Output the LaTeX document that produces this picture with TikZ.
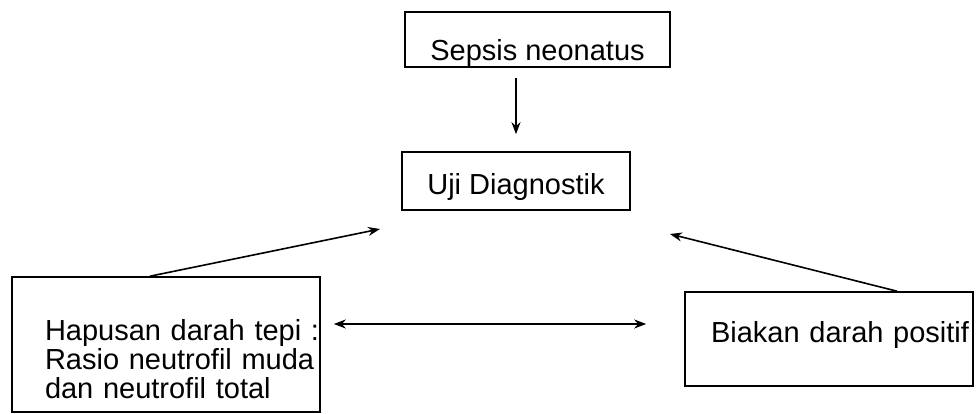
\documentclass[tikz,border=0pt]{standalone}
\usepackage{fontspec}
\setmainfont{Liberation Sans}
\usetikzlibrary{arrows.meta}

\tikzset{
  kotak/.style={draw, inner sep=0pt},
}

\begin{document}
\begin{tikzpicture}[x=1pt,y=-1pt,>={Stealth[length=12pt,width=9pt]},line width=1.6pt,font=\fontsize{29}{33}\selectfont]
            \useasboundingbox (0,0) rectangle (979,414);
            \node[kotak,anchor=base,minimum width=265pt,text height=49pt,text depth=6pt] at (537.5,61) (sepsis) {Sepsis neonatus};
            \node[kotak,anchor=base,minimum width=228pt,text height=42pt,text depth=16pt] at (516,194) (uji) {Uji Diagnostik};
            \node[kotak,anchor=base,text width=308pt,align=left,text height=63pt,text depth=72pt,font=\fontsize{29}{29}\selectfont] at (166,340) (hapusan) {\hspace*{33pt}Hapusan darah tepi :\\\hspace*{33pt}Rasio neutrofil muda\\\hspace*{33pt}dan neutrofil total};
            \node[kotak,anchor=base,text width=280pt,align=right,inner xsep=4pt,text height=50pt,text depth=44pt] at (829,342) (biakan) {Biakan darah positif};
            \coordinate (ujiL) at (380,229);
            \coordinate (ujiR) at (670,234);
            \coordinate (tengah) at (490,324);
            \draw[->,shorten <=10pt,shorten >=17pt] (sepsis.south -| uji.north) -- (uji.north);
            \draw[->] ([xshift=-16pt]hapusan.north) -- (ujiL);
            \draw[->] ([xshift=68pt]biakan.north) -- (ujiR);
            \draw[<->,shorten <=13pt,shorten >=38pt] (hapusan.east |- tengah) -- (biakan.west |- tengah);
        \end{tikzpicture}
\end{document}
